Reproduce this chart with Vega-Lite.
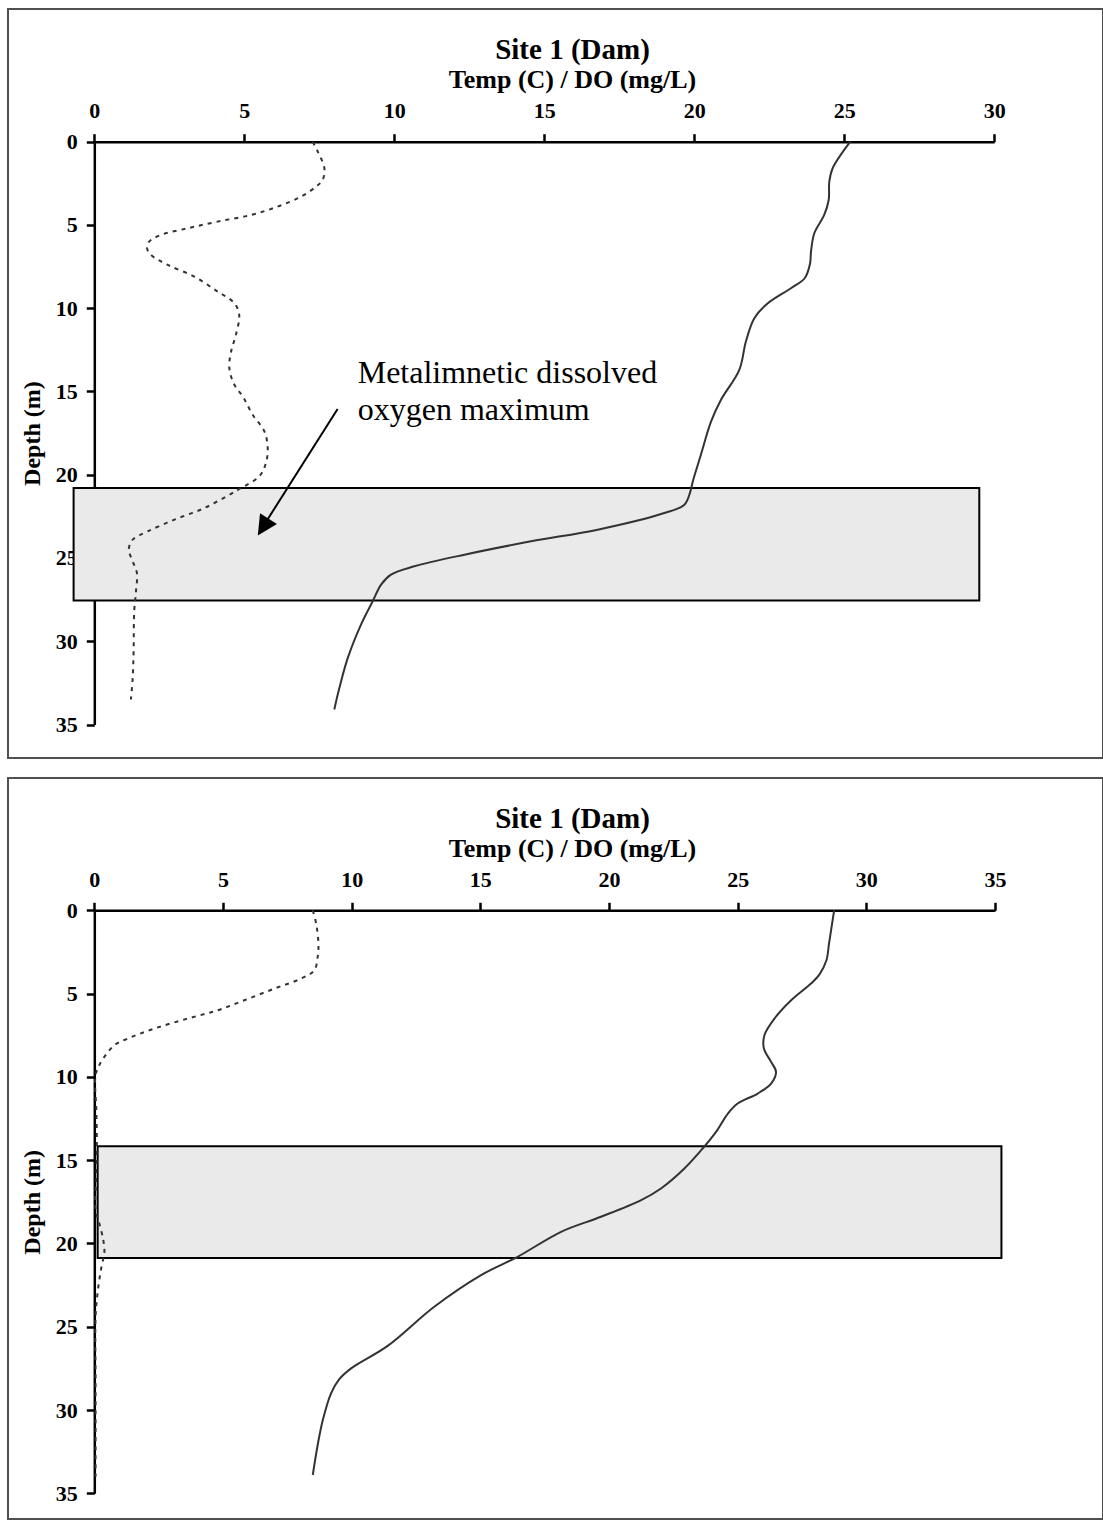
{
  "$schema": "https://vega.github.io/schema/vega-lite/v6.json",
  "background": "white",
  "padding": {"left": 7, "top": 8, "right": 0, "bottom": 0},
  "spacing": 18,
  "config": {
    "font": "Liberation Serif",
    "view": {"stroke": "#505050", "strokeWidth": 2},
    "axis": {
      "labelFont": "Liberation Serif", "labelFontSize": 22, "labelFontWeight": "bold", "labelColor": "black",
      "titleFont": "Liberation Serif", "titleFontWeight": "bold", "titleColor": "black",
      "domainColor": "black", "tickColor": "black", "domainWidth": 2.5, "tickWidth": 2.5, "tickSize": 8,
      "grid": false, "zindex": 1, "labelFlush": false, "labelOverlap": false
    }
  },
  "datasets": {
    "p1": [
      {"series": "Temp", "depth": 0, "value": 25.2},
      {"series": "Temp", "depth": 1.6, "value": 24.61},
      {"series": "Temp", "depth": 2.4, "value": 24.5},
      {"series": "Temp", "depth": 3.5, "value": 24.48},
      {"series": "Temp", "depth": 4.4, "value": 24.33},
      {"series": "Temp", "depth": 5.5, "value": 24.0},
      {"series": "Temp", "depth": 6.6, "value": 23.89},
      {"series": "Temp", "depth": 7.3, "value": 23.86},
      {"series": "Temp", "depth": 8.2, "value": 23.68},
      {"series": "Temp", "depth": 8.8, "value": 23.22},
      {"series": "Temp", "depth": 9.7, "value": 22.45},
      {"series": "Temp", "depth": 10.6, "value": 22.0},
      {"series": "Temp", "depth": 12.0, "value": 21.72},
      {"series": "Temp", "depth": 13.7, "value": 21.5},
      {"series": "Temp", "depth": 15.5, "value": 20.89},
      {"series": "Temp", "depth": 16.8, "value": 20.56},
      {"series": "Temp", "depth": 18.8, "value": 20.22},
      {"series": "Temp", "depth": 20.4, "value": 19.95},
      {"series": "Temp", "depth": 21.0, "value": 19.87},
      {"series": "Temp", "depth": 21.8, "value": 19.67},
      {"series": "Temp", "depth": 22.3, "value": 19.0},
      {"series": "Temp", "depth": 23.3, "value": 16.78},
      {"series": "Temp", "depth": 24.0, "value": 14.56},
      {"series": "Temp", "depth": 24.8, "value": 12.34},
      {"series": "Temp", "depth": 25.5, "value": 10.67},
      {"series": "Temp", "depth": 26.0, "value": 9.89},
      {"series": "Temp", "depth": 26.6, "value": 9.56},
      {"series": "Temp", "depth": 27.6, "value": 9.28},
      {"series": "Temp", "depth": 29.0, "value": 8.89},
      {"series": "Temp", "depth": 31.0, "value": 8.45},
      {"series": "Temp", "depth": 32.8, "value": 8.17},
      {"series": "Temp", "depth": 34.1, "value": 8.0},
      {"series": "DO", "depth": 0, "value": 7.28},
      {"series": "DO", "depth": 0.6, "value": 7.45},
      {"series": "DO", "depth": 1.6, "value": 7.67},
      {"series": "DO", "depth": 2.3, "value": 7.61},
      {"series": "DO", "depth": 2.7, "value": 7.39},
      {"series": "DO", "depth": 3.3, "value": 6.89},
      {"series": "DO", "depth": 3.9, "value": 6.11},
      {"series": "DO", "depth": 4.4, "value": 5.22},
      {"series": "DO", "depth": 4.8, "value": 4.11},
      {"series": "DO", "depth": 5.2, "value": 3.11},
      {"series": "DO", "depth": 5.6, "value": 2.22},
      {"series": "DO", "depth": 6.0, "value": 1.83},
      {"series": "DO", "depth": 6.4, "value": 1.76},
      {"series": "DO", "depth": 6.8, "value": 1.89},
      {"series": "DO", "depth": 7.4, "value": 2.45},
      {"series": "DO", "depth": 8.1, "value": 3.33},
      {"series": "DO", "depth": 9.0, "value": 4.11},
      {"series": "DO", "depth": 9.7, "value": 4.67},
      {"series": "DO", "depth": 10.4, "value": 4.83},
      {"series": "DO", "depth": 11.6, "value": 4.72},
      {"series": "DO", "depth": 12.6, "value": 4.56},
      {"series": "DO", "depth": 13.6, "value": 4.5},
      {"series": "DO", "depth": 14.6, "value": 4.67},
      {"series": "DO", "depth": 15.3, "value": 4.95},
      {"series": "DO", "depth": 16.4, "value": 5.28},
      {"series": "DO", "depth": 17.4, "value": 5.67},
      {"series": "DO", "depth": 18.4, "value": 5.78},
      {"series": "DO", "depth": 19.3, "value": 5.72},
      {"series": "DO", "depth": 20.1, "value": 5.5},
      {"series": "DO", "depth": 20.8, "value": 4.89},
      {"series": "DO", "depth": 21.1, "value": 4.6},
      {"series": "DO", "depth": 22.0, "value": 3.67},
      {"series": "DO", "depth": 22.7, "value": 2.67},
      {"series": "DO", "depth": 23.4, "value": 1.78},
      {"series": "DO", "depth": 23.9, "value": 1.28},
      {"series": "DO", "depth": 24.5, "value": 1.15},
      {"series": "DO", "depth": 25.2, "value": 1.28},
      {"series": "DO", "depth": 25.9, "value": 1.42},
      {"series": "DO", "depth": 27.0, "value": 1.39},
      {"series": "DO", "depth": 28.2, "value": 1.33},
      {"series": "DO", "depth": 30.6, "value": 1.31},
      {"series": "DO", "depth": 32.2, "value": 1.28},
      {"series": "DO", "depth": 33.5, "value": 1.22}
    ],
    "p2": [
      {"series": "Temp", "depth": 0, "value": 28.75},
      {"series": "Temp", "depth": 1, "value": 28.65},
      {"series": "Temp", "depth": 2, "value": 28.55},
      {"series": "Temp", "depth": 3, "value": 28.45},
      {"series": "Temp", "depth": 3.85, "value": 28.18},
      {"series": "Temp", "depth": 4.4, "value": 27.85},
      {"series": "Temp", "depth": 5.4, "value": 27.08},
      {"series": "Temp", "depth": 6.5, "value": 26.43},
      {"series": "Temp", "depth": 7.5, "value": 26.04},
      {"series": "Temp", "depth": 8.3, "value": 26.02},
      {"series": "Temp", "depth": 9.1, "value": 26.3},
      {"series": "Temp", "depth": 9.7, "value": 26.49},
      {"series": "Temp", "depth": 10.4, "value": 26.3},
      {"series": "Temp", "depth": 11.0, "value": 25.78},
      {"series": "Temp", "depth": 11.6, "value": 25.0},
      {"series": "Temp", "depth": 12.2, "value": 24.62},
      {"series": "Temp", "depth": 13.3, "value": 24.16},
      {"series": "Temp", "depth": 14.3, "value": 23.64},
      {"series": "Temp", "depth": 15.5, "value": 22.93},
      {"series": "Temp", "depth": 16.7, "value": 22.02},
      {"series": "Temp", "depth": 17.4, "value": 21.25},
      {"series": "Temp", "depth": 18.4, "value": 19.69},
      {"series": "Temp", "depth": 19.3, "value": 18.14},
      {"series": "Temp", "depth": 20.8, "value": 16.45},
      {"series": "Temp", "depth": 21.9, "value": 15.03},
      {"series": "Temp", "depth": 23.8, "value": 13.21},
      {"series": "Temp", "depth": 26.15, "value": 11.4},
      {"series": "Temp", "depth": 27.5, "value": 9.98},
      {"series": "Temp", "depth": 28.15, "value": 9.52},
      {"series": "Temp", "depth": 29.0, "value": 9.2},
      {"series": "Temp", "depth": 30.6, "value": 8.88},
      {"series": "Temp", "depth": 32.1, "value": 8.68},
      {"series": "Temp", "depth": 33.9, "value": 8.49},
      {"series": "DO", "depth": 0, "value": 8.49},
      {"series": "DO", "depth": 0.8, "value": 8.62},
      {"series": "DO", "depth": 2.0, "value": 8.71},
      {"series": "DO", "depth": 2.8, "value": 8.68},
      {"series": "DO", "depth": 3.6, "value": 8.55},
      {"series": "DO", "depth": 4.1, "value": 8.03},
      {"series": "DO", "depth": 4.7, "value": 7.0},
      {"series": "DO", "depth": 5.4, "value": 5.83},
      {"series": "DO", "depth": 6.0, "value": 4.8},
      {"series": "DO", "depth": 6.5, "value": 3.63},
      {"series": "DO", "depth": 7.1, "value": 2.33},
      {"series": "DO", "depth": 7.7, "value": 1.3},
      {"series": "DO", "depth": 8.1, "value": 0.78},
      {"series": "DO", "depth": 8.8, "value": 0.39},
      {"series": "DO", "depth": 9.4, "value": 0.16},
      {"series": "DO", "depth": 10.0, "value": 0.04},
      {"series": "DO", "depth": 12.0, "value": 0.08},
      {"series": "DO", "depth": 14.0, "value": 0.1},
      {"series": "DO", "depth": 16.0, "value": 0.08},
      {"series": "DO", "depth": 17.9, "value": 0.05},
      {"series": "DO", "depth": 19.0, "value": 0.23},
      {"series": "DO", "depth": 19.8, "value": 0.35},
      {"series": "DO", "depth": 20.6, "value": 0.39},
      {"series": "DO", "depth": 21.3, "value": 0.29},
      {"series": "DO", "depth": 22.8, "value": 0.14},
      {"series": "DO", "depth": 24.4, "value": 0.05},
      {"series": "DO", "depth": 28.0, "value": 0.05},
      {"series": "DO", "depth": 31.0, "value": 0.05},
      {"series": "DO", "depth": 34.0, "value": 0.05}
    ]
  },
  "vconcat": [
    {
      "width": 1095,
      "height": 749,
      "title": {
        "text": "Site 1 (Dam)", "subtitle": "Temp (C) / DO (mg/L)",
        "font": "Liberation Serif", "fontSize": 29, "fontWeight": "bold", "color": "black",
        "subtitleFont": "Liberation Serif", "subtitleFontSize": 26, "subtitleFontWeight": "bold", "subtitleColor": "black",
        "subtitlePadding": 2, "anchor": "middle", "frame": "group", "offset": -84, "dx": 17
      },
      "layer": [
        {
          "data": {"values": [{}]},
          "mark": {"type": "rect", "fill": "#eaeaea", "stroke": "black", "strokeWidth": 2, "clip": false},
          "encoding": {
            "x": {"datum": -0.69}, "x2": {"datum": 29.5},
            "y": {"datum": 20.8}, "y2": {"datum": 27.55}
          }
        },
        {
          "data": {"name": "p1"},
          "transform": [{"filter": "datum.series === 'Temp'"}],
          "mark": {"type": "line", "color": "#333333", "strokeWidth": 2, "interpolate": "catmull-rom"},
          "encoding": {
            "x": {"field": "value", "type": "quantitative",
              "scale": {"domain": [0, 30], "range": [86.3, 986.3], "nice": false, "zero": false},
              "axis": {"orient": "top", "offset": -132.7, "values": [0, 5, 10, 15, 20, 25, 30], "title": null, "labelPadding": 11}},
            "y": {"field": "depth", "type": "quantitative",
              "scale": {"domain": [0, 35], "range": [132.7, 715.5], "nice": false, "zero": false},
              "axis": {"orient": "left", "offset": -86.3, "values": [0, 5, 10, 15, 20, 25, 30, 35], "title": "Depth (m)", "titleFontSize": 24, "titlePadding": 11, "labelPadding": 9}},
            "order": {"field": "depth", "type": "quantitative"}
          }
        },
        {
          "data": {"name": "p1"},
          "transform": [{"filter": "datum.series === 'DO'"}],
          "mark": {"type": "line", "color": "#333333", "strokeWidth": 2, "strokeDash": [4, 5], "interpolate": "catmull-rom"},
          "encoding": {
            "x": {"field": "value", "type": "quantitative"},
            "y": {"field": "depth", "type": "quantitative"},
            "order": {"field": "depth", "type": "quantitative"}
          }
        },
        {
          "data": {"values": [{}]},
          "mark": {"type": "rule", "color": "black", "strokeWidth": 2},
          "encoding": {
            "x": {"datum": 8.11}, "y": {"datum": 16.05},
            "x2": {"datum": 5.7}, "y2": {"datum": 22.9}
          }
        },
        {
          "data": {"values": [{}]},
          "mark": {"type": "point", "shape": "M0,0L-0.5,1L0.5,1Z", "size": 1600, "filled": true, "color": "black", "opacity": 1, "angle": 212.3},
          "encoding": {
            "x": {"datum": 5.45}, "y": {"datum": 23.65}
          }
        },
        {
          "data": {"values": [{}]},
          "mark": {"type": "text", "text": ["Metalimnetic dissolved", "oxygen maximum"], "align": "left", "baseline": "alphabetic",
            "font": "Liberation Serif", "fontSize": 32, "lineHeight": 37, "color": "black"},
          "encoding": {
            "x": {"datum": 8.78}, "y": {"datum": 14.52}
          }
        }
      ]
    },
    {
      "width": 1095,
      "height": 741,
      "title": {
        "text": "Site 1 (Dam)", "subtitle": "Temp (C) / DO (mg/L)",
        "font": "Liberation Serif", "fontSize": 29, "fontWeight": "bold", "color": "black",
        "subtitleFont": "Liberation Serif", "subtitleFontSize": 26, "subtitleFontWeight": "bold", "subtitleColor": "black",
        "subtitlePadding": 2, "anchor": "middle", "frame": "group", "offset": -84, "dx": 17
      },
      "layer": [
        {
          "data": {"values": [{}]},
          "mark": {"type": "rect", "fill": "#eaeaea", "stroke": "black", "strokeWidth": 2, "clip": false},
          "encoding": {
            "x": {"datum": 0.13}, "x2": {"datum": 35.25},
            "y": {"datum": 14.16}, "y2": {"datum": 20.87}
          }
        },
        {
          "data": {"name": "p2"},
          "transform": [{"filter": "datum.series === 'Temp'"}],
          "mark": {"type": "line", "color": "#333333", "strokeWidth": 2, "interpolate": "catmull-rom"},
          "encoding": {
            "x": {"field": "value", "type": "quantitative",
              "scale": {"domain": [0, 35], "range": [86.3, 987.0], "nice": false, "zero": false},
              "axis": {"orient": "top", "offset": -132.3, "values": [0, 5, 10, 15, 20, 25, 30, 35], "title": null, "labelPadding": 11}},
            "y": {"field": "depth", "type": "quantitative",
              "scale": {"domain": [0, 35], "range": [132.3, 715.3], "nice": false, "zero": false},
              "axis": {"orient": "left", "offset": -86.3, "values": [0, 5, 10, 15, 20, 25, 30, 35], "title": "Depth (m)", "titleFontSize": 24, "titlePadding": 11, "labelPadding": 9}},
            "order": {"field": "depth", "type": "quantitative"}
          }
        },
        {
          "data": {"name": "p2"},
          "transform": [{"filter": "datum.series === 'DO'"}],
          "mark": {"type": "line", "color": "#333333", "strokeWidth": 2, "strokeDash": [4, 5], "interpolate": "catmull-rom"},
          "encoding": {
            "x": {"field": "value", "type": "quantitative"},
            "y": {"field": "depth", "type": "quantitative"},
            "order": {"field": "depth", "type": "quantitative"}
          }
        }
      ]
    }
  ]
}
